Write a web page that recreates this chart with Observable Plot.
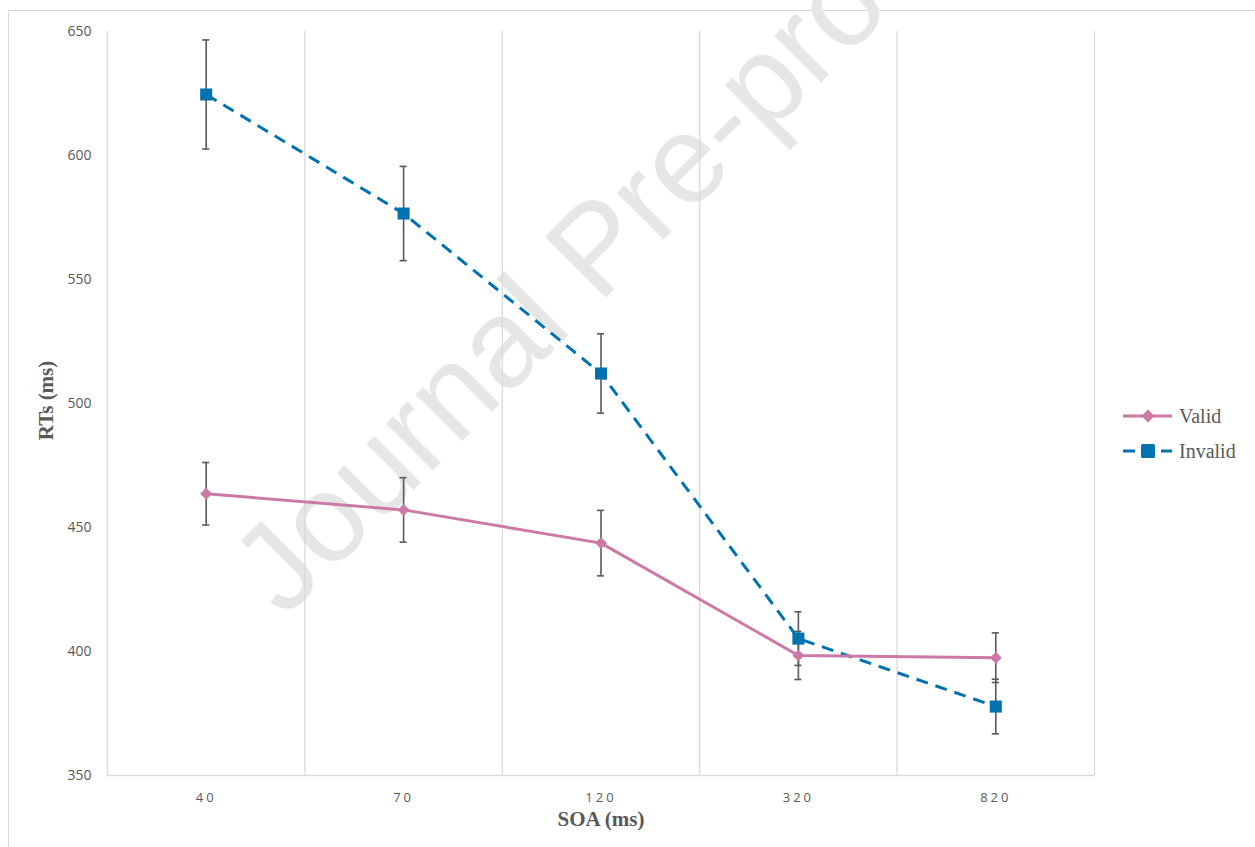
<!DOCTYPE html>
<html>
<head>
<meta charset="utf-8">
<script src="https://cdn.jsdelivr.net/npm/d3@7"></script>
<script src="https://cdn.jsdelivr.net/npm/@observablehq/plot@0.6"></script>
<style>
  html, body { margin: 0; padding: 0; background: #fff; }
  #wrap { position: relative; width: 1255px; height: 847px; overflow: hidden; background: #fff; }
  #frame { position: absolute; left: 8px; top: 10px; width: 1300px; height: 900px; border: 1px solid #d9d9d9; box-sizing: border-box; }
  #watermark { position: absolute; left: 595px; top: 247px; transform: translate(-50%, -50%) rotate(-45deg);
    font-family: "Liberation Sans", Arial, sans-serif; font-size: 125px; color: #e6e6e6; white-space: nowrap; pointer-events: none; }
  #chart { position: absolute; left: 0; top: 0; }
  .legend { position: absolute; left: 1122px; font-family: "Liberation Serif", "Times New Roman", serif; font-size: 20px; color: #595959; display: flex; align-items: center; }
  .legend svg { margin-right: 5px; }
</style>
</head>
<body>
<div id="wrap">
  <div id="frame"></div>
  <div id="watermark">Journal Pre-proof</div>
  <div id="chart"></div>
  <div class="legend" style="top:404px;">
    <svg width="52" height="24"><line x1="1" y1="12" x2="50" y2="12" stroke="#CC79A7" stroke-width="3"/><path d="M26,5.5L32.5,12L26,18.5L19.5,12Z" fill="#CC79A7"/></svg>Valid
  </div>
  <div class="legend" style="top:439px;">
    <svg width="52" height="24"><line x1="1" y1="12" x2="50" y2="12" stroke="#0072B2" stroke-width="3" stroke-dasharray="12,7"/><rect x="19" y="5" width="14" height="14" rx="1.5" fill="#0072B2"/></svg>Invalid
  </div>
</div>
<script>
const categories = ["40", "70", "120", "320", "820"];
const validMean = [463.6, 457.1, 443.7, 398.4, 397.5];
const validErr = [12.6, 13.0, 13.2, 9.7, 10.0];
const invalidMean = [624.6, 576.6, 512.1, 405.2, 377.8];
const invalidErr = [22.0, 19.0, 16.0, 10.8, 11.0];
const yTicks = [350, 400, 450, 500, 550, 600, 650];

const valid = categories.map((c, i) => ({i, cat: c, mean: validMean[i], err: validErr[i]}));
const invalid = categories.map((c, i) => ({i, cat: c, mean: invalidMean[i], err: invalidErr[i]}));
const all = invalid.concat(valid);
const bounds = d3.range(categories.length + 1).map(i => i - 0.5);
const cap = 0.018;

const pink = "#CC79A7", blue = "#0072B2", grey = "#595959";

const plot = Plot.plot({
  width: 1255,
  height: 847,
  marginLeft: 107,
  marginRight: 161,
  marginTop: 31,
  marginBottom: 72,
  style: {background: "transparent", color: grey, fontFamily: "'Open Sans', sans-serif", fontSize: "13.5px", overflow: "visible"},
  x: {type: "linear", domain: [-0.5, categories.length - 0.5]},
  y: {domain: [yTicks[0], yTicks[yTicks.length - 1]]},
  marks: [
    Plot.ruleX(bounds, {stroke: "#d9d9d9", strokeWidth: 1.3}),
    Plot.ruleY([yTicks[0]], {stroke: "#d9d9d9", strokeWidth: 1.3}),
    Plot.axisY({ticks: yTicks, tickSize: 0, tickPadding: 16, label: null, fontSize: 14}),
    Plot.axisX({ticks: d3.range(categories.length), tickFormat: i => categories[i], tickSize: 0, tickPadding: 17, label: null, fontSize: 13}),
    Plot.ruleX(all, {x: "i", y1: d => d.mean - d.err, y2: d => d.mean + d.err, stroke: grey, strokeWidth: 1.6}),
    Plot.ruleY(all, {y: d => d.mean - d.err, x1: d => d.i - cap, x2: d => d.i + cap, stroke: grey, strokeWidth: 1.6}),
    Plot.ruleY(all, {y: d => d.mean + d.err, x1: d => d.i - cap, x2: d => d.i + cap, stroke: grey, strokeWidth: 1.6}),
    Plot.line(invalid, {x: "i", y: "mean", stroke: blue, strokeWidth: 3, strokeDasharray: "12,8", strokeLinecap: "butt"}),
    Plot.dot(invalid, {x: "i", y: "mean", symbol: "square", r: 6.8, fill: blue}),
    Plot.line(valid, {x: "i", y: "mean", stroke: pink, strokeWidth: 3}),
    Plot.dot(valid, {x: "i", y: "mean", symbol: "diamond2", r: 5.4, fill: pink}),
    Plot.text(["RTs (ms)"], {frameAnchor: "left", textAnchor: "middle", lineAnchor: "middle", dx: -61, dy: -3, rotate: -90, fontFamily: "'Liberation Serif', serif", fontWeight: "bold", fontSize: 21, fill: grey}),
    Plot.text(["SOA (ms)"], {frameAnchor: "bottom", lineAnchor: "bottom", dy: 50, fontFamily: "'Liberation Serif', serif", fontWeight: "bold", fontSize: 21, fill: grey})
  ]
});
d3.select(plot).selectAll('[aria-label="x-axis tick label"] text').attr("letter-spacing", "3px");
document.getElementById("chart").appendChild(plot);
</script>
</body>
</html>
